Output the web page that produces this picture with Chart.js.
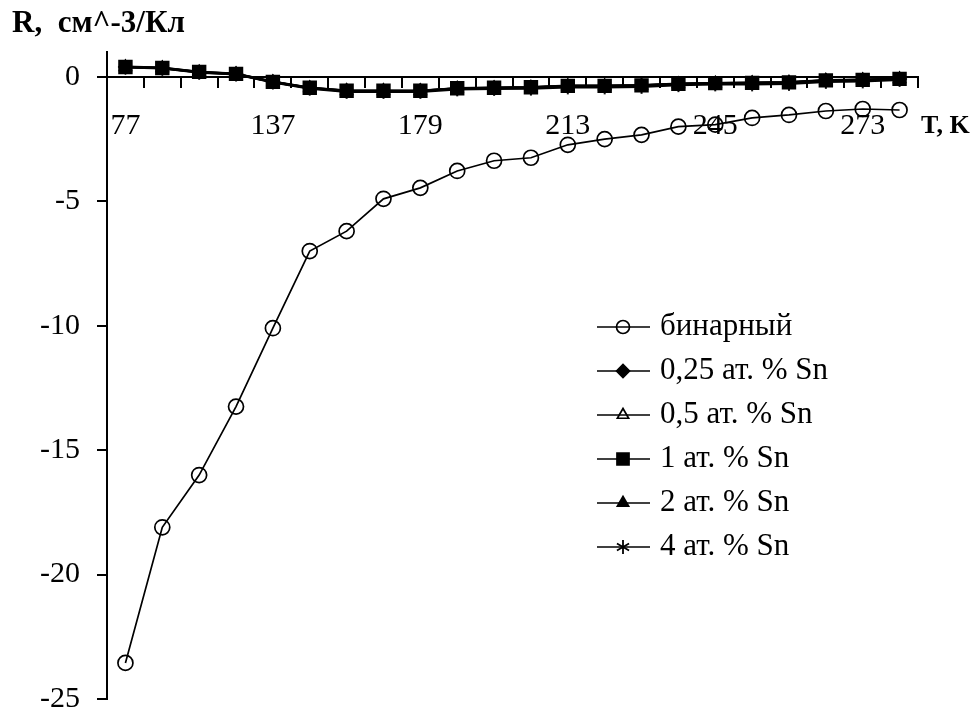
<!DOCTYPE html>
<html>
<head>
<meta charset="utf-8">
<script src="https://cdn.jsdelivr.net/npm/chart.js@4.4.0/dist/chart.umd.min.js"></script>
<style>
  html, body { margin: 0; padding: 0; background: #fff; }
  #wrap { width: 970px; height: 711px; position: relative; }
</style>
</head>
<body>
<div id="wrap"><canvas id="c" width="970" height="711"></canvas></div>
<script>
// Temperature categories (only every fourth one is labelled on the axis)
const temperatures = ['77', '', '', '', '137', '', '', '', '179', '', '', '', '213', '', '', '', '245', '', '', '', '273', ''];

// Hall-type coefficient R, cm^-3/C
const binary = [-23.55, -18.1, -16.0, -13.25, -10.1, -7.0, -6.2, -4.9, -4.46, -3.78, -3.37, -3.25, -2.73, -2.5, -2.33, -2.0, -1.92, -1.65, -1.53, -1.37, -1.29, -1.33];
const sn025  = [0.40, 0.35, 0.19, 0.12, -0.20, -0.44, -0.55, -0.56, -0.55, -0.46, -0.44, -0.42, -0.36, -0.35, -0.34, -0.28, -0.25, -0.24, -0.22, -0.14, -0.12, -0.08];
const sn05   = [0.41, 0.37, 0.20, 0.13, -0.19, -0.43, -0.55, -0.55, -0.56, -0.45, -0.43, -0.41, -0.35, -0.36, -0.33, -0.27, -0.25, -0.23, -0.21, -0.13, -0.11, -0.07];
const sn1    = [0.40, 0.36, 0.20, 0.12, -0.20, -0.44, -0.56, -0.56, -0.56, -0.46, -0.44, -0.42, -0.36, -0.36, -0.34, -0.28, -0.25, -0.24, -0.22, -0.14, -0.12, -0.08];
const sn2    = [0.39, 0.35, 0.18, 0.11, -0.21, -0.45, -0.57, -0.57, -0.57, -0.47, -0.45, -0.43, -0.37, -0.37, -0.35, -0.29, -0.26, -0.25, -0.23, -0.15, -0.13, -0.09];
const sn4    = [0.38, 0.34, 0.17, 0.10, -0.22, -0.47, -0.60, -0.60, -0.60, -0.50, -0.48, -0.47, -0.42, -0.42, -0.40, -0.33, -0.30, -0.30, -0.28, -0.20, -0.18, -0.12];

const seriesNames = ['бинарный', '0,25 ат. % Sn', '0,5 ат. % Sn', '1 ат. % Sn', '2 ат. % Sn', '4 ат. % Sn'];
const yTicks = [-25, -20, -15, -10, -5, 0];

const FONT = "'Liberation Serif', 'Times New Roman', serif";

// six-spoke asterisk marker
function asteriskSprite(size) {
  const cv = document.createElement('canvas');
  cv.width = size; cv.height = size;
  const g = cv.getContext('2d');
  const c = size / 2, r = size / 2 - 1;
  g.strokeStyle = '#000';
  g.lineWidth = 1.8;
  g.beginPath();
  for (let k = 0; k < 3; k++) {
    const a = Math.PI / 2 + k * Math.PI / 3;
    g.moveTo(c + r * Math.cos(a), c + r * Math.sin(a));
    g.lineTo(c - r * Math.cos(a), c - r * Math.sin(a));
  }
  g.stroke();
  return cv;
}
const asterisk = asteriskSprite(16);

function series(label, data, style, radius, fill, lw, order) {
  return {
    label, data,
    borderColor: '#000',
    backgroundColor: fill,
    borderWidth: lw,
    pointStyle: style,
    pointRadius: radius,
    pointBorderWidth: 1.7,
    pointBorderColor: '#000',
    pointBackgroundColor: fill,
    tension: 0,
    fill: false,
    order
  };
}

const datasets = [
  series(seriesNames[0], binary, 'circle', 7.5, 'rgba(0,0,0,0)', 1.7, 6),
  series(seriesNames[1], sn025, 'rectRot', 6.5, '#000', 2.2, 5),
  series(seriesNames[2], sn05, 'triangle', 6.5, 'rgba(0,0,0,0)', 2.2, 4),
  series(seriesNames[3], sn1, 'rect', 9, '#000', 2.2, 3),
  series(seriesNames[4], sn2, 'triangle', 6.5, '#000', 2.2, 2),
  series(seriesNames[5], sn4, asterisk, 8, '#000', 2.2, 1)
];

// axis captions and the in-plot legend
const decorations = {
  id: 'decorations',
  afterDraw(chart) {
    const ctx = chart.ctx;
    ctx.save();
    ctx.fillStyle = '#000';
    ctx.textBaseline = 'middle';
    ctx.textAlign = 'left';
    ctx.font = "bold 31px " + FONT;
    ctx.fillText('R,  см^-3/Кл', 12, 24);
    ctx.font = "bold 26px " + FONT;
    ctx.fillText('T, K', 921, 126);

    // legend
    const x0 = 597, x1 = 650, xm = 623, xt = 660, y0 = 327, dy = 44;
    ctx.font = "31px " + FONT;
    chart.data.datasets.forEach((ds, i) => {
      const y = y0 + i * dy;
      ctx.strokeStyle = '#000';
      ctx.lineWidth = 1.7;
      ctx.beginPath();
      ctx.moveTo(x0, y);
      ctx.lineTo(x1, y);
      ctx.stroke();
      ctx.fillStyle = ds.pointBackgroundColor;
      ctx.lineWidth = 1.7;
      Chart.helpers.drawPoint(ctx, {
        pointStyle: ds.pointStyle,
        rotation: 0,
        radius: ds.pointStyle === 'rect' ? 8.5 : 6.5,
        borderWidth: 1.7
      }, xm, y);
      ctx.fillStyle = '#000';
      ctx.fillText(ds.label, xt, y);
    });
    ctx.restore();
  }
};

new Chart(document.getElementById('c'), {
  type: 'line',
  data: { labels: temperatures, datasets },
  options: {
    responsive: false,
    animation: false,
    devicePixelRatio: 1,
    layout: { padding: { left: 0, top: 52, right: 52, bottom: 12 } },
    plugins: { legend: { display: false }, tooltip: { enabled: false }, title: { display: false } },
    scales: {
      x: {
        type: 'category',
        position: { y: 0 },
        offset: true,
        afterFit(scale) { scale.height = 0; },
        grid: {
          offset: true,
          drawOnChartArea: false,
          drawTicks: true,
          tickLength: 10,
          color: '#000',
          lineWidth: 2
        },
        border: { display: true, color: '#000', width: 2 },
        ticks: {
          autoSkip: false,
          maxRotation: 0,
          minRotation: 0,
          padding: 21,
          color: '#000',
          font: { family: FONT, size: 30 }
        }
      },
      y: {
        type: 'linear',
        position: 'left',
        min: -25,
        max: 1,
        afterFit(scale) {
          scale.width = 107;
          scale.paddingTop = 0;
          scale.paddingBottom = 0;
        },
        afterBuildTicks(scale) { scale.ticks = yTicks.map(v => ({ value: v })); },
        grid: {
          drawOnChartArea: false,
          drawTicks: true,
          tickLength: 10,
          color: '#000',
          lineWidth: 2
        },
        border: { display: true, color: '#000', width: 2 },
        ticks: {
          padding: 17,
          color: '#000',
          font: { family: FONT, size: 30 }
        }
      }
    }
  },
  plugins: [decorations]
});
</script>
</body>
</html>
